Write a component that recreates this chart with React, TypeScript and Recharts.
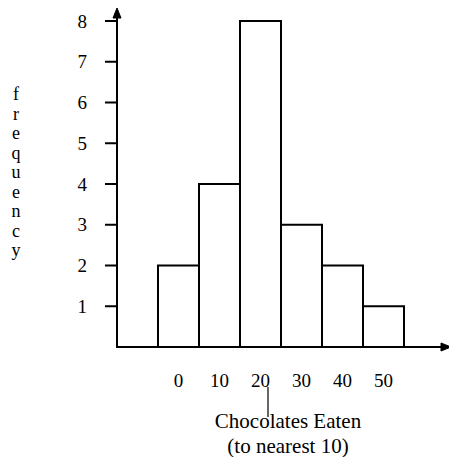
import React from "react"
import {
  BarChart,
  Bar,
  XAxis,
  YAxis,
  Label,
  useOffset,
  useChartWidth,
  useChartHeight,
} from "recharts"

// chocolates eaten (to nearest 10) -> frequency, blank bands on each side
const categories = ["", "0", "10", "20", "30", "40", "50", ""]
const frequency = [0, 2, 4, 8, 3, 2, 1, 0]
const yTicks = [1, 2, 3, 4, 5, 6, 7, 8]
const yLetters = ["f", "r", "e", "q", "u", "e", "n", "c", "y"]
const titleLines = ["Chocolates Eaten", "(to nearest 10)"]

const data = categories.map((c, i) => ({ label: c, freq: frequency[i] }))

const FONT = "'Liberation Serif', 'Times New Roman', serif"

// axis lines with arrow heads, drawn from the chart's plot offset
const Arrows = () => {
  const offset = useOffset()
  const w = useChartWidth()
  const h = useChartHeight()
  if (!offset || !w || !h) return null
  const x0 = offset.left
  const y0 = h - offset.bottom
  const yTop = offset.top - 13
  const xEnd = w - 6
  return (
    <g stroke="#000" strokeWidth={2} fill="#000">
      <line x1={x0} y1={y0 + 1} x2={x0} y2={yTop + 2} />
      <path d={`M${x0} ${yTop} L${x0 - 4} ${yTop + 10} L${x0 + 4} ${yTop + 10} Z`} strokeWidth={1} />
      <line x1={x0} y1={y0} x2={xEnd - 2} y2={y0} />
      <path d={`M${xEnd} ${y0} L${xEnd - 10} ${y0 - 4} L${xEnd - 10} ${y0 + 4} Z`} strokeWidth={1} />
    </g>
  )
}

const YTitle = (props: any) => {
  const { viewBox } = props
  const x = 8
  return (
    <g>
      {yLetters.map((ch, i) => (
        <text
          key={i}
          x={x}
          y={viewBox.y + 79 + i * 19.5}
          textAnchor="middle"
          fontFamily={FONT}
          fontSize={18}
          fill="#000"
        >
          {ch}
        </text>
      ))}
    </g>
  )
}

const XTitle = (props: any) => {
  const { viewBox } = props
  const cx = viewBox.x + viewBox.width / 2 + 7
  return (
    <g>
      <line x1={cx - 20} y1={viewBox.y + 40} x2={cx - 20} y2={viewBox.y + 70} stroke="#000" strokeWidth={1.2} />
      {titleLines.map((t, i) => (
        <text
          key={i}
          x={cx}
          y={viewBox.y + 81 + i * 25}
          textAnchor="middle"
          fontFamily={FONT}
          fontSize={21}
          fill="#000"
        >
          {t}
        </text>
      ))}
    </g>
  )
}

export default function App() {
  return (
    <div style={{ width: 449, height: 449, background: "#fff" }}>
      <BarChart
        width={449}
        height={449}
        data={data}
        margin={{ top: 13, right: 12, left: 49, bottom: 70 }}
        barCategoryGap={0}
      >
        <XAxis
          dataKey="label"
          axisLine={false}
          tickLine={false}
          tickSize={0}
          tickMargin={27}
          height={40}
          interval={0}
          tick={{ fill: "#000", fontFamily: FONT, fontSize: 19 }}
        >
          <Label content={<XTitle />} />
        </XAxis>
        <YAxis
          domain={[0, 8]}
          ticks={yTicks}
          width={60}
          axisLine={false}
          tickLine={{ stroke: "#000", strokeWidth: 2 }}
          tickSize={12}
          tickMargin={18}
          tick={{ fill: "#000", fontFamily: FONT, fontSize: 19 }}
        >
          <Label content={<YTitle />} />
        </YAxis>
        <Bar
          dataKey="freq"
          fill="#fff"
          stroke="#000"
          strokeWidth={2}
          isAnimationActive={false}
        />
        <Arrows />
      </BarChart>
    </div>
  )
}
